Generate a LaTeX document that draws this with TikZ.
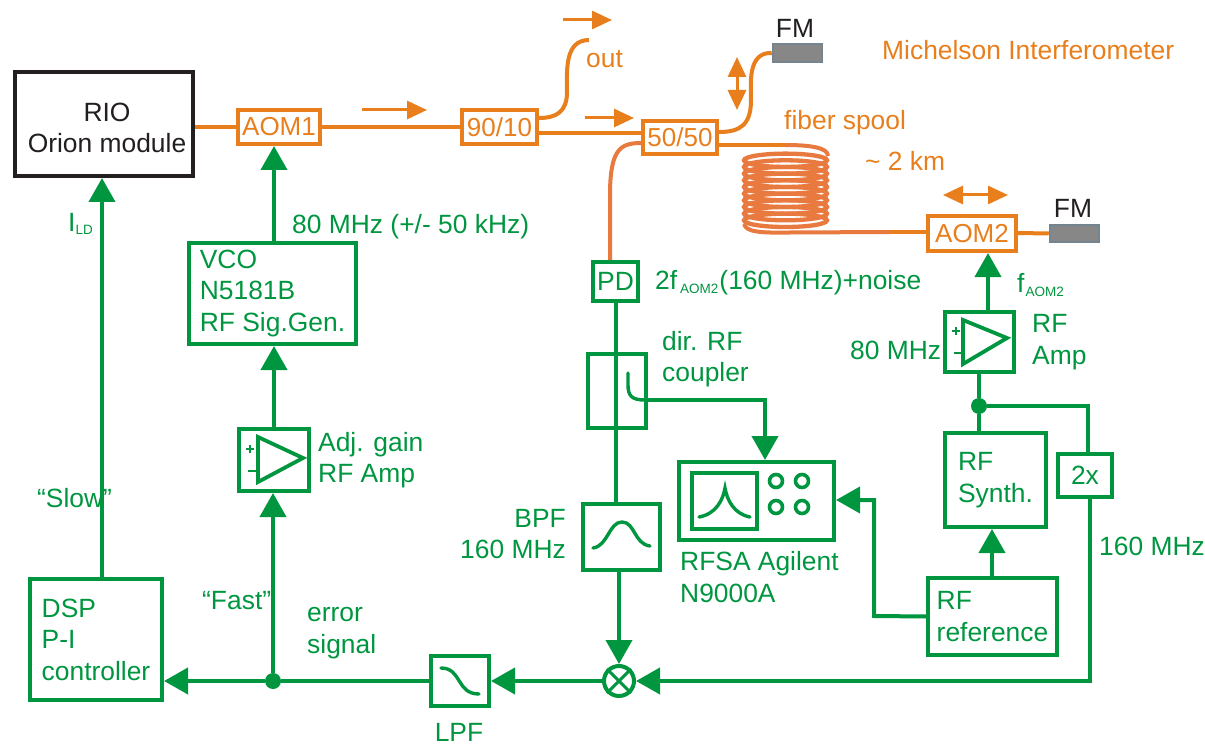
\documentclass[tikz,border=0pt]{standalone}
\usepackage{fontspec}
\setmainfont{Liberation Sans}
\usetikzlibrary{arrows.meta,calc}
\definecolor{gr}{HTML}{009640}
\definecolor{org}{HTML}{E87E1C}
\definecolor{spo}{HTML}{E8793F}
\definecolor{fmb}{HTML}{74858F}
\definecolor{fmi}{HTML}{878787}
\definecolor{blk}{HTML}{231F20}
\newcommand\fs{\fontsize{26.4}{31.5}\selectfont}
\newcommand\sbs[1]{\raisebox{-3.5pt}{\fontsize{13.5}{13.5}\selectfont #1}}
\newcommand\bx[7][]{%
  \pgfmathsetmacro\wdd{#5-#3}\pgfmathsetmacro\htt{#6-#4}%
  \pgfmathsetmacro\cxx{(#3+#5)/2}\pgfmathsetmacro\cyy{(#4+#6)/2}%
  \node[#1,minimum width=\wdd pt,minimum height=\htt pt] (#2) at (\cxx,\cyy) {#7};}
\tikzset{
  every node/.style={font=\fs,inner sep=0pt},
  gbox/.style={draw=gr,line width=4pt,text=gr,align=left},
  obox/.style={draw=org,line width=4pt,text=org,font=\fontsize{26}{30}\selectfont},
  gtxt/.style={text=gr,align=left,anchor=west},
  otxt/.style={text=org,align=left,anchor=west},
  gline/.style={draw=gr,line width=4pt},
  garrow/.style={gline,-{Triangle[width=26pt,length=24pt]}},
  gthin/.style={draw=gr,line width=3.4pt,line cap=round,line join=miter},
  oline/.style={draw=org,line width=4pt},
  oarrow/.style={draw=org,line width=3pt,-{Triangle[width=18pt,length=20pt]}},
  odouble/.style={draw=org,line width=3pt,{Triangle[width=18pt,length=20pt]}-{Triangle[width=18pt,length=20pt]}},
  fmbox/.style={draw=fmb,fill=fmi,line width=2.5pt},
  dotn/.style={circle,fill=gr,minimum size=16pt},
}
\begin{document}
\begin{tikzpicture}[x=1pt,y=-1pt]
\useasboundingbox (0,0) rectangle (1205,746);
% optical parts
\bx[draw=blk,line width=4pt]{rio}{15}{72}{193}{176}{}
\node[text=blk,align=center] (riot) at (107,128) {RIO\\Orion module};
\bx[obox]{aoma}{238}{110}{320}{144}{AOM1}
\bx[obox]{split}{462}{110}{537}{144}{90/10}
\bx[obox]{fifty}{643}{121}{717}{154}{50/50}
\bx[obox]{aomb}{928}{216}{1016}{251}{AOM2}
\bx[fmbox]{fma}{773}{44}{822}{62}{}
\bx[fmbox]{fmb}{1050}{225}{1099}{242}{}
\node[text=blk] (fmat) at (795,28) {FM};
\node[text=blk] (fmbt) at (1073,208) {FM};
% electronics boxes
\bx[gbox]{vco}{189}{243}{356}{344}{VCO\\N5181B\\RF Sig.Gen.}
\bx[gbox]{ampa}{239}{429}{309}{491}{}
\bx[gbox]{pd}{593}{262}{638}{301}{PD}
\bx[gbox]{coup}{588}{354}{646}{428}{}
\bx[gbox]{bpf}{583}{504}{660}{570}{}
\bx[gbox]{rfsa}{679}{462}{834}{540}{}
\bx[gbox]{scr}{692}{473}{757}{529}{}
\bx[gbox]{dsp}{30}{579}{162}{700}{DSP\\P-I\\controller}
\bx[gbox]{lpf}{431}{656}{489}{706}{}
\bx[gbox]{ampb}{945}{312}{1014}{372}{}
\bx[gbox]{syn}{945}{433}{1046}{527}{RF\\Synth.}
\bx[gbox]{dbl}{1058}{454}{1112}{497}{2x}
\bx[gbox]{ref}{928}{578}{1057}{655}{RF\\reference}
\node[circle,draw=gr,line width=4pt,minimum size=30pt] (mix) at (619,681) {};
\draw[gline,line width=3pt] (mix.45)--(mix.225) (mix.135)--(mix.315);
\node[dotn] (dota) at (273,681) {};
\node[dotn] (dotb) at (979,406) {};
% fibres
\draw[oline] (rio.east |- aoma.west) -- (aoma.west);
\draw[oline] (aoma.east) -- (split.west);
\draw[oline] (split.east |- 0,133) -- (fifty.west |- 0,133);
\draw[oline] (split.east |- 0,118) .. controls (556,118) and (567,112) .. (567,92) .. controls (567,72) and (564,40) .. (589,40);
\draw[oline] (fifty.east |- 0,132) .. controls (740,132) and (751,125) .. (751,100) .. controls (751,85) and (747,52) .. (fma.west);
\draw[oline,draw=spo] (fifty.west |- 0,143) .. controls (620,143) and (611,150) .. (610,190) -- (pd.north -| 610,0);
\draw[oline] (fifty.east |- 0,145) -- (785,145);
\foreach \yy in {160.3,166.97,173.64,180.31,186.98,193.65,200.32,206.99,213.66,220.33}
  \draw[draw=spo,line width=4.3pt] (785.5,\yy) ellipse [x radius=41.5pt,y radius=6.67pt];
\draw[draw=spo,line width=4pt] (785,145) .. controls (812,145) and (828,148) .. (828,156);
\draw[draw=spo,line width=4pt] (744,224) .. controls (746,232) and (760,233) .. (790,232.5) -- (890,232);
\draw[oline] (890,232) -- (aomb.west |- 0,232);
\draw[oline] (aomb.east |- 0,233) -- (fmb.west);
% free direction arrows
\coordinate (pa1) at (362,110); \coordinate (pa2) at (427,110);
\coordinate (pb1) at (585,118); \coordinate (pb2) at (634,118);
\coordinate (pc1) at (563,20);  \coordinate (pc2) at (612,20);
\coordinate (pd1) at (737,57);  \coordinate (pd2) at (737,110);
\coordinate (pe1) at (943,195); \coordinate (pe2) at (1008,195);
\draw[oarrow] (pa1)--(pa2);
\draw[oarrow] (pb1)--(pb2);
\draw[oarrow] (pc1)--(pc2);
\draw[odouble] (pd1)--(pd2);
\draw[odouble] (pe1)--(pe2);
% signal connectors
\draw[garrow] (dsp.north -| 102,0) -- (rio.south -| 102,0);
\draw[garrow] (vco.north -| 274,0) -- (aoma.south -| 274,0);
\draw[garrow] (ampa.north) -- (vco.south -| ampa.north);
\draw[garrow] (dota) -- (ampa.south -| dota);
\draw[garrow] (dota) -- (dsp.east |- dota);
\draw[gline] (lpf.west) -- (dota);
\draw[garrow] (mix.west) -- (lpf.east);
\draw[gline] (pd.south -| 616,0) -- (coup.north -| 616,0);
\draw[gline] (coup.north -| 616,0) -- (coup.south -| 616,0);
\draw[gline] (coup.south -| 616,0) -- (bpf.north -| 616,0);
\draw[garrow] (bpf.south -| 619,0) -- (mix.north);
\draw[gthin] (628,373) -- (628,385) .. controls (628,396) and (632,400) .. (645,400);
\draw[garrow] (645,400) -- (765,400) -- (rfsa.north -| 765,0);
\draw[garrow] (ref.west) -- (874,616) -- (874,500) -- (rfsa.east |- 0,500);
\draw[garrow] (ref.north -| 992,0) -- (syn.south -| 992,0);
\draw[gline] (syn.north -| dotb) -- (dotb);
\draw[gline] (dotb) -- (ampb.south -| dotb);
\draw[gline] (dotb) -- (1090,406) (1088,406) -- (dbl.north -| 1088,0);
\draw[garrow] (dbl.south -| 1090,0) -- (1090,681) -- (mix.east);
\draw[garrow] (ampb.north -| 988,0) -- (aomb.south -| 988,0);
% symbols
\draw[gthin,line cap=butt,line width=3.8pt] (258,437) -- (258,482) -- (303,458) -- cycle;
\draw[gthin,line cap=butt,line width=3.8pt] (963,320) -- (963,364) -- (1007,338) -- cycle;
\draw[gr,line width=1.2pt] (246,449)--(254,449) (250,445)--(250,453) (248,471)--(256,471);
\draw[gr,line width=1.2pt] (952,331)--(960,331) (956,327)--(956,335) (954,353)--(962,353);
\draw[gthin] (593,548) .. controls (608,546) and (609,522) .. (622,522) .. controls (635,522) and (634,544) .. (650,546);
\draw[gthin] (441,668) .. controls (462,668) and (456,694) .. (479,694);
\draw[gthin] (699,517) .. controls (716,514) and (723,500) .. (725,488) .. controls (727,500) and (734,514) .. (750,517);
\foreach \cx/\cy in {776/481,802/481,776/507,802/507}
  \draw[gr,line width=3.6pt] (\cx,\cy) circle (6.5pt);
% labels
\node[otxt] (tout) at (586,59) {out};
\node[otxt] (tspool) at (784,123) {fiber spool};
\node[otxt] (tkm) at (865,161) {\textasciitilde{} 2 km};
\node[otxt] (tmich) at (882,50) {Michelson Interferometer};
\node[gtxt] (tild) at (68,224) {I\sbs{LD}};
\node[gtxt] (tslow) at (37,498) {“Slow”};
\node[gtxt] (tfast) at (202,601) {“Fast”};
\node[gtxt] (terr) at (307,633) {error\\signal};
\node[text=gr] (tlpf) at (459,732) {LPF};
\node[text=gr,align=right,anchor=east] (tbpf) at (566,534) {BPF\\160 MHz};
\node[gtxt] (trfsa) at (680,577) {RFSA Agilent\\N9000A};
\node[gtxt] (tdir) at (662,359) {dir. RF\\coupler};
\node[gtxt] (tadj) at (318,460) {Adj. gain\\RF Amp};
\node[gtxt] (t2f) at (655,283) {2f\hspace{3pt}\sbs{AOM2}\hspace{1pt}(160 MHz)+noise};
\node[gtxt] (tf) at (1017,285) {f\hspace{1pt}\sbs{AOM2}};
\node[gtxt] (t80a) at (292,227) {80 MHz (+/- 50 kHz)};
\node[gtxt] (t80b) at (850,350) {80 MHz};
\node[gtxt] (tamp) at (1032,342) {RF\\Amp};
\node[gtxt] (t160) at (1099,546) {160 MHz};
\end{tikzpicture}
\end{document}
